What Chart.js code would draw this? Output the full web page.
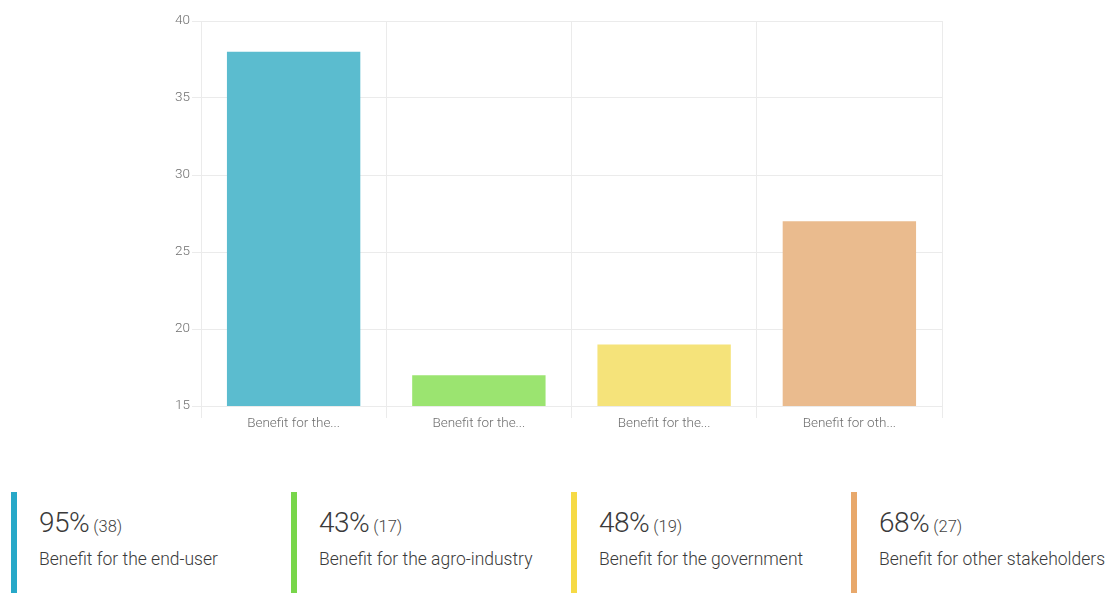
<!DOCTYPE html>
<html>
<head>
<meta charset="utf-8">
<script src="https://cdn.jsdelivr.net/npm/chart.js@4/dist/chart.umd.min.js"></script>
<style>
  html, body { margin: 0; padding: 0; background: #ffffff; }
  body { width: 1112px; height: 596px; position: relative; overflow: hidden; font-family: Roboto, "Noto Sans", sans-serif; }
  #chartBox { position: absolute; left: 0; top: 0; width: 1112px; height: 440px; }
  .item { position: absolute; top: 492px; height: 104px; width: 275px; }
  .item .bar { position: absolute; left: 0; top: 0; width: 6px; height: 101px; }
  .item .pct { position: absolute; left: 28px; top: 14px; white-space: nowrap; color: #3a3a3a; }
  .item .pct .big { font-size: 28px; font-weight: 300; letter-spacing: -0.5px; }
  .item .pct .small { font-size: 16.5px; font-weight: 300; margin-left: 4px; color: #444; }
  .item .name { position: absolute; left: 28px; top: 57px; font-size: 17.5px; font-weight: 300; color: #3a3a3a; white-space: nowrap; }
</style>
</head>
<body>
<div id="chartBox"><canvas id="c"></canvas></div>
<div id="legend"></div>
<script>
// Answer categories and counts
const categories = [
  "Benefit for the end-user",
  "Benefit for the agro-industry",
  "Benefit for the government",
  "Benefit for other stakeholders"
];
const counts = [38, 17, 19, 27];
const percents = [95, 43, 48, 68];
const yTicks = [15, 20, 25, 30, 35, 40];

// Colours: soft fill for bars, stronger shade for the legend stripes
const barColors = ["#5bbccf", "#9be470", "#f5e37a", "#eabb8e"];
const stripeColors = ["#27a8c8", "#78d64a", "#f6da45", "#e8a86b"];

function shortLabel(s) {
  return s.length > 15 ? s.slice(0, 15) + "..." : s;
}

const grid = "#ebebeb";

new Chart(document.getElementById("c"), {
  type: "bar",
  data: {
    labels: categories.map(shortLabel),
    datasets: [{
      data: counts,
      backgroundColor: barColors,
      borderWidth: 0,
      barPercentage: 0.9,
      categoryPercentage: 0.8
    }]
  },
  options: {
    responsive: true,
    maintainAspectRatio: false,
    animation: false,
    layout: { padding: { left: 161, right: 170, top: 21, bottom: 0 } },
    plugins: { legend: { display: false }, tooltip: { enabled: false } },
    scales: {
      x: {
        grid: { color: grid, lineWidth: 1, tickLength: 12, offset: true },
        border: { color: grid },
        ticks: { color: "#6f6f6f", font: { family: "Roboto", size: 13.5, weight: 300 }, padding: -2, maxRotation: 0 },
        afterFit: s => { s.height = 34; }
      },
      y: {
        min: 15,
        max: 40,
        afterBuildTicks: s => { s.ticks = yTicks.map(v => ({ value: v })); },
        grid: { color: grid, lineWidth: 1, tickLength: 9 },
        border: { color: grid },
        ticks: { color: "#6f6f6f", font: { family: "Roboto", size: 13.5, weight: 300 }, padding: 2 },
        afterFit: s => { s.width = 40; }
      }
    }
  }
});

// Summary legend below the chart
const legend = document.getElementById("legend");
categories.forEach((name, i) => {
  const item = document.createElement("div");
  item.className = "item";
  item.style.left = (11 + i * 280) + "px";
  item.innerHTML =
    '<div class="bar" style="background:' + stripeColors[i] + '"></div>' +
    '<div class="pct"><span class="big">' + percents[i] + '%</span><span class="small">(' + counts[i] + ')</span></div>' +
    '<div class="name">' + name + '</div>';
  legend.appendChild(item);
});
</script>
</body>
</html>
